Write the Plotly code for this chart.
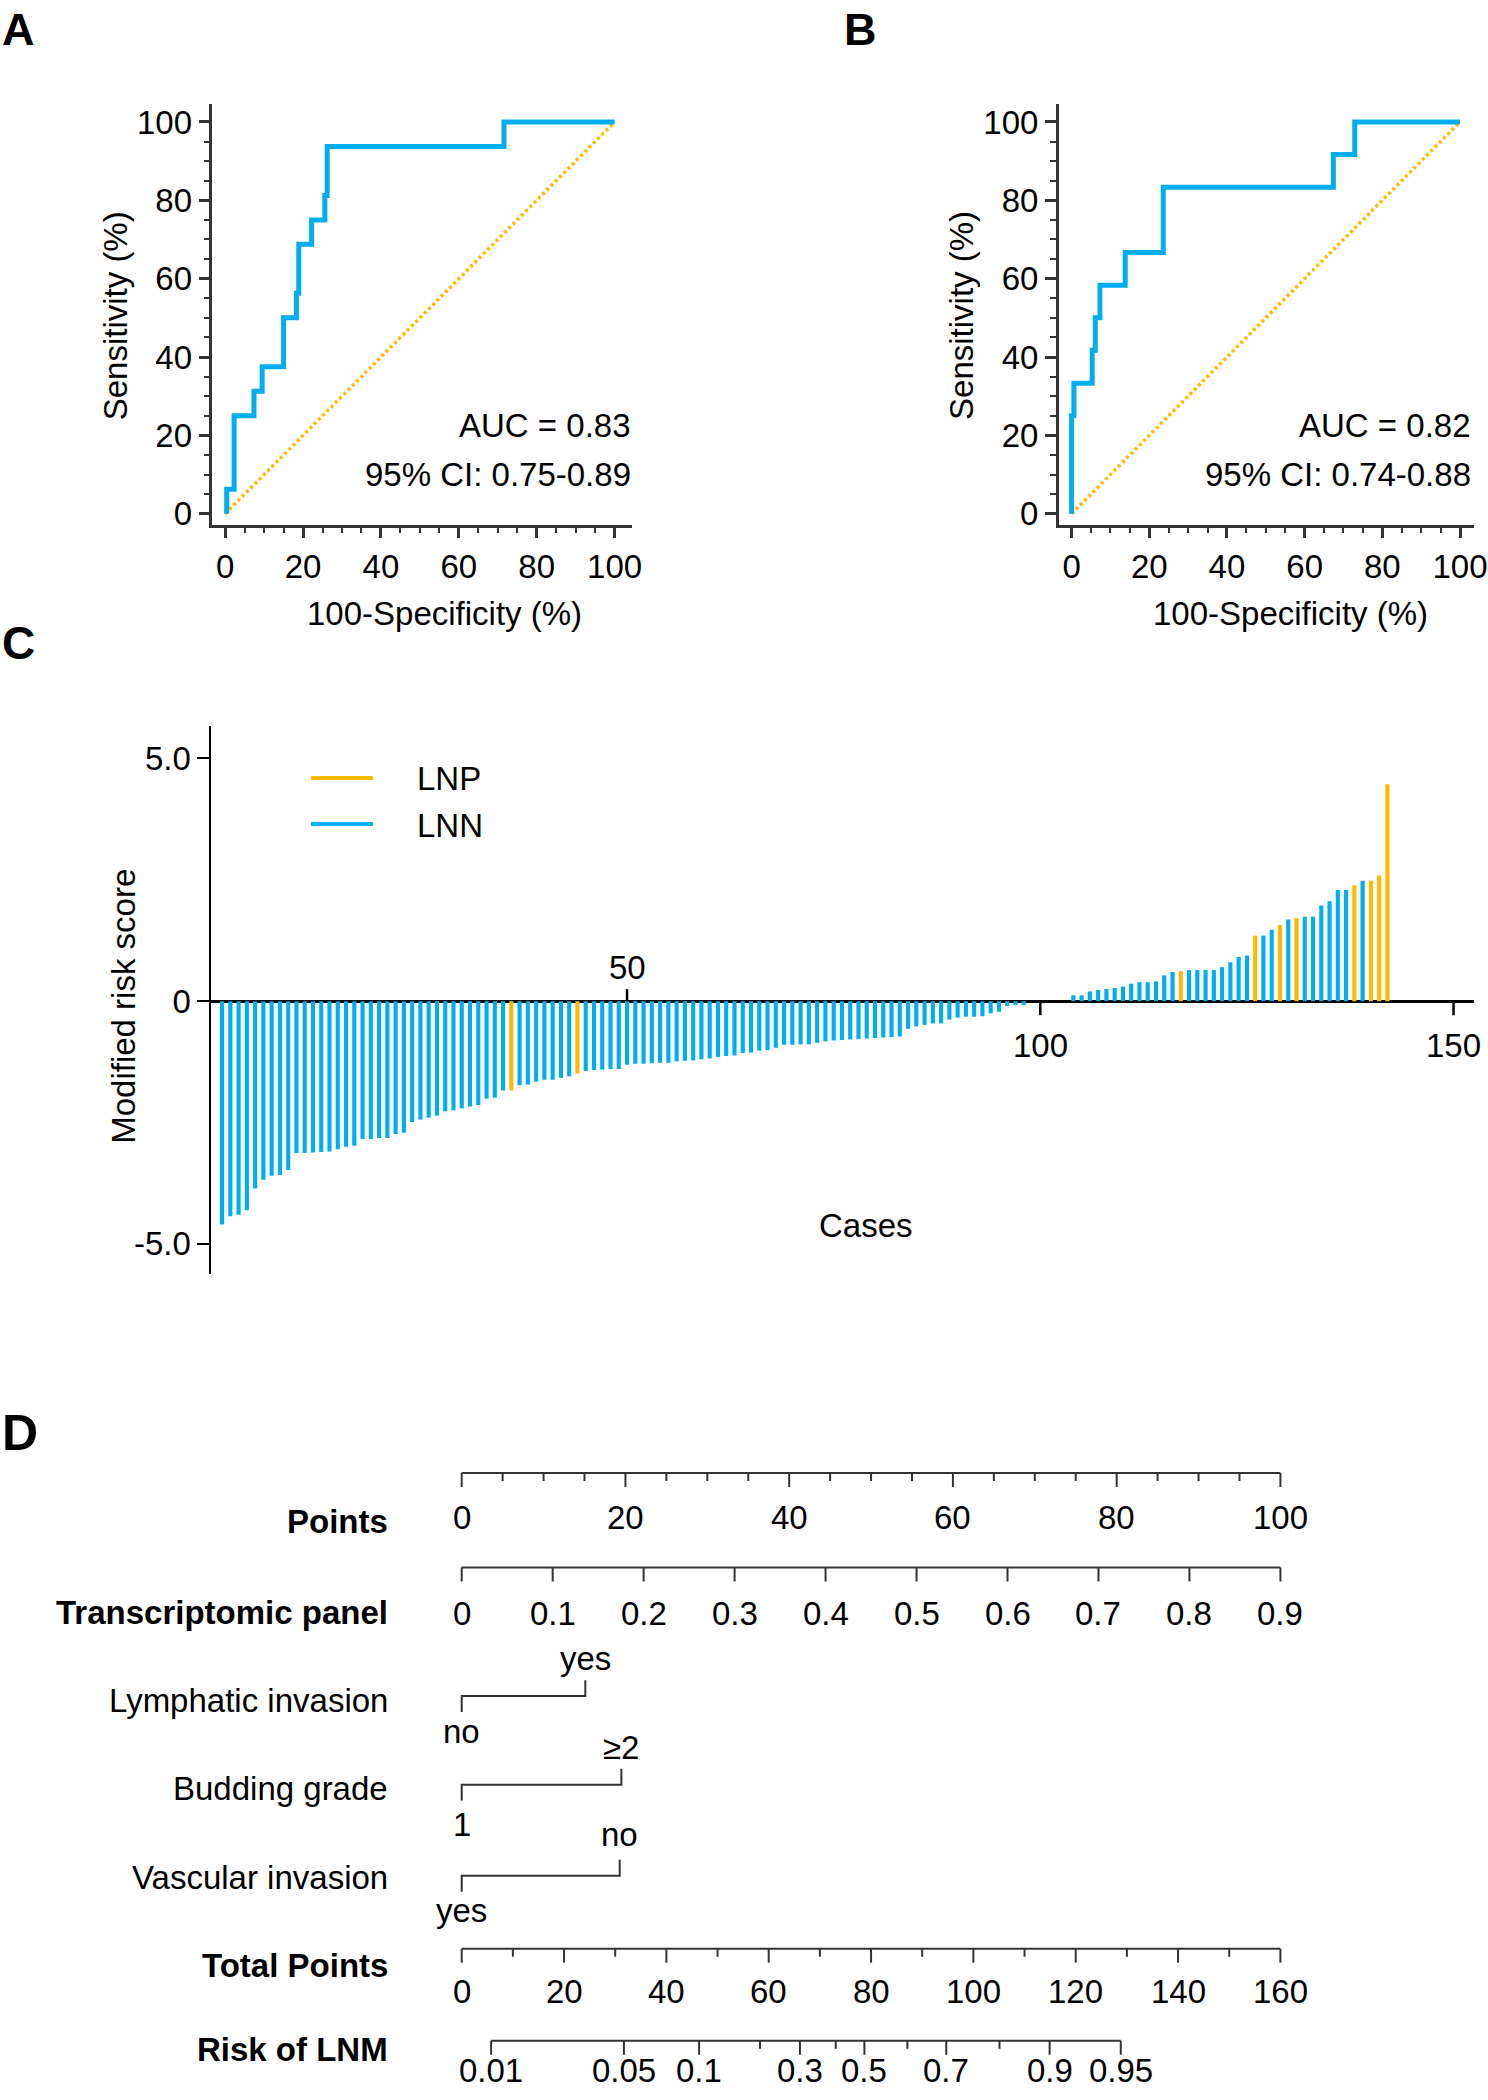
import plotly.graph_objects as go

# ------------------------------------------------------------------ data
# Panel A ROC (step vertices, % values)
roc_a_fpr = [0.4, 2.3, 7.4, 9.5, 15.0, 18.3, 18.9, 22.2, 25.6, 26.2, 71.6, 100.0]
roc_a_tpr = [0.0, 6.25, 25.0, 31.25, 37.5, 50.0, 56.25, 68.75, 75.0, 81.25, 93.75, 100.0]
auc_a_text = ["AUC = 0.83", "95% CI: 0.75-0.89"]

# Panel B ROC
roc_b_fpr = [0.0, 0.6, 5.3, 6.1, 7.3, 13.8, 23.6, 67.4, 72.9, 100.0]
roc_b_tpr = [0.0, 25.0, 33.3, 41.7, 50.0, 58.3, 66.7, 83.3, 91.7, 100.0]
auc_b_text = ["AUC = 0.82", "95% CI: 0.74-0.88"]

roc_ticks = [0, 20, 40, 60, 80, 100]

# Panel C modified risk score per case (cases 1..142, sorted)
risk_scores = [
    -4.60, -4.43, -4.40, -4.31, -3.86, -3.68, -3.60, -3.58, -3.48, -3.13,
    -3.13, -3.12, -3.11, -3.10, -3.05, -3.00, -2.98, -2.84, -2.84, -2.82,
    -2.82, -2.74, -2.71, -2.49, -2.44, -2.40, -2.36, -2.27, -2.25, -2.21,
    -2.17, -2.14, -2.01, -1.99, -1.84, -1.84, -1.73, -1.72, -1.66, -1.62,
    -1.62, -1.58, -1.55, -1.49, -1.44, -1.42, -1.41, -1.40, -1.40, -1.31,
    -1.29, -1.29, -1.28, -1.27, -1.27, -1.24, -1.23, -1.22, -1.20, -1.18,
    -1.15, -1.13, -1.12, -1.07, -1.06, -1.02, -1.01, -0.96, -0.90, -0.90,
    -0.89, -0.89, -0.86, -0.83, -0.81, -0.80, -0.79, -0.78, -0.77, -0.76,
    -0.75, -0.74, -0.73, -0.57, -0.52, -0.49, -0.46, -0.46, -0.38, -0.34,
    -0.32, -0.32, -0.31, -0.25, -0.22, -0.10, -0.08, -0.08, 0.00, 0.00,
    0.00, 0.00, 0.00, 0.12, 0.12, 0.20, 0.23, 0.25, 0.27, 0.30,
    0.36, 0.39, 0.39, 0.41, 0.53, 0.60, 0.62, 0.64, 0.64, 0.64,
    0.64, 0.70, 0.80, 0.91, 0.94, 1.35, 1.35, 1.47, 1.57, 1.68,
    1.71, 1.74, 1.74, 1.97, 2.06, 2.29, 2.29, 2.39, 2.48, 2.48,
    2.59, 4.47,
]
lnp_cases = [36, 44, 117, 126, 129, 131, 138, 140, 141, 142]
c_xticks = [50, 100, 150]
c_yticks = [-5, 0, 5]
c_yticktext = ["-5.0", "0", "5.0"]
legend_names = ["LNP", "LNN"]

# Panel D nomogram
points_major = [0, 20, 40, 60, 80, 100]
points_minor_step = 5
panel_ticks = [0, 0.1, 0.2, 0.3, 0.4, 0.5, 0.6, 0.7, 0.8, 0.9]
panel_ticktext = ["0", "0.1", "0.2", "0.3", "0.4", "0.5", "0.6", "0.7", "0.8", "0.9"]
panel_max_value = 0.9          # value that scores 100 points
lymph_levels = ["no", "yes"]
lymph_points = [0, 15.1]
budding_levels = ["1", "\u22652"]
budding_points = [0, 19.5]
vascular_levels = ["yes", "no"]
vascular_points = [0, 19.3]
total_major = [0, 20, 40, 60, 80, 100, 120, 140, 160]
total_minor = [10, 30, 50, 70, 90, 110, 130, 150]
total_max = 160                # total points spanning the 0-100 points scale
risk_major = ["0.01", "0.05", "0.1", "0.3", "0.5", "0.7", "0.9", "0.95"]
risk_major_total = [5.75, 31.7, 46.4, 66.1, 78.7, 94.7, 114.9, 128.8]
risk_minor_total = [58.3, 73.1, 87.1, 105.1]   # 0.2, 0.4, 0.6, 0.8

# ------------------------------------------------------------------ style / layout
W, H = 1488, 2100
FONT = "Liberation Sans, Arial, Helvetica, sans-serif"
BLUE = "#00AEEF"
ORANGE = "#FFBA00"
AXC = "#333333"
FS = 33


def X(x):   # layout pixel calibration (horizontal)
    return 1.006 * x + 2


def Y(y):   # layout pixel calibration (vertical)
    return y + 0.0045 * (y - 120)


def px(x):
    return X(x) / W


def py(y):
    return 1 - Y(y) / H


def h_axis(p_start, p_end, p_a, p_b, v_a, v_b):
    unit = (p_b - p_a) / (v_b - v_a)
    return dict(domain=[p_start / W, p_end / W],
                range=[v_a - (p_a - p_start) / unit, v_a + (p_end - p_a) / unit])


def v_axis(p_top, p_bottom, p_a, p_b, v_a, v_b):
    unit = (p_a - p_b) / (v_b - v_a)
    return dict(domain=[1 - p_bottom / H, 1 - p_top / H],
                range=[v_a - (p_bottom - p_a) / unit, v_a + (p_a - p_top) / unit])


fig = go.Figure()

# ------------------------------------------------------------------ A & B
for i, (fpr, tpr) in enumerate([(roc_a_fpr, roc_a_tpr), (roc_b_fpr, roc_b_tpr)]):
    xa = "x" if i == 0 else "x2"
    ya = "y" if i == 0 else "y2"
    fig.add_trace(go.Scatter(x=[0, 100], y=[0, 100], mode="lines", xaxis=xa, yaxis=ya,
                             line=dict(color=ORANGE, width=3.5, dash="3px,3px"),
                             showlegend=False, hoverinfo="skip"))
    fig.add_trace(go.Scatter(x=fpr, y=tpr, mode="lines", xaxis=xa, yaxis=ya,
                             line=dict(color=BLUE, width=5, shape="vh"),
                             showlegend=False))

roc_axis = dict(tickvals=roc_ticks, ticks="outside", ticklen=11, tickwidth=2.5,
                tickcolor=AXC, showline=True, linewidth=2.5, linecolor=AXC, showgrid=False,
                zeroline=False, tickfont=dict(size=FS, color="black", family=FONT),
                ticklabeloverflow="allow",
                minor=dict(dtick=5, tick0=0, ticks="outside", ticklen=6, tickwidth=2,
                           tickcolor=AXC, showgrid=False))

roc_y = v_axis(Y(104.5), Y(524.7), Y(513.9), Y(122.4), 0, 100)
xa_A = dict(roc_axis, anchor="y", **h_axis(X(211), X(632), X(223.8), X(614.3), 0, 100))
ya_A = dict(roc_axis, anchor="x", **roc_y)
xa_B = dict(roc_axis, anchor="y2",
            **h_axis(X(1059.7), min(X(1480), 1487), X(1072.6), X(1462.1), 0, 100))
ya_B = dict(roc_axis, anchor="x2", **roc_y)

# ------------------------------------------------------------------ C
cases = list(range(1, len(risk_scores) + 1))
lnn_x = [c for c in cases if c not in lnp_cases]
fig.add_trace(go.Bar(x=lnn_x, y=[risk_scores[c - 1] for c in lnn_x], width=0.5,
                     marker=dict(color=BLUE, line=dict(width=0)), xaxis="x3", yaxis="y3",
                     name="LNN", showlegend=False))
fig.add_trace(go.Bar(x=lnp_cases, y=[risk_scores[c - 1] for c in lnp_cases], width=0.5,
                     marker=dict(color=ORANGE, line=dict(width=0)), xaxis="x3", yaxis="y3",
                     name="LNP", showlegend=False))

xa_C = dict(anchor="y3", showline=False, showticklabels=False, ticks="", showgrid=False,
            zeroline=False,
            **h_axis(X(210), min(X(1477), 1487), X(220.7), X(1389.3), 1, 142))
ya_C = dict(anchor="x3", tickvals=c_yticks, ticktext=c_yticktext, ticks="outside",
            ticklen=12, tickwidth=2, tickcolor="black", showline=True, linewidth=2,
            linecolor="black", showgrid=False, zeroline=True, zerolinewidth=3,
            zerolinecolor="black", tickfont=dict(size=FS, color="black", family=FONT),
            **v_axis(Y(726), Y(1274), Y(1001), Y(758.5), 0, 5))

shapes = []
annotations = []
for t in c_xticks:
    v = risk_scores[t - 1] if t <= len(risk_scores) else 0
    up = v < -0.5
    shapes.append(dict(type="line", xref="x3", yref="y3", x0=t, x1=t, ysizemode="pixel",
                       yanchor=0, y0=0, y1=12 if up else -14,
                       line=dict(color="black", width=2.5)))
    annotations.append(dict(x=t, y=0, xref="x3", yref="y3", text=str(t), showarrow=False,
                            yshift=34 if up else -44, xanchor="center", yanchor="middle",
                            font=dict(size=FS, color="black", family=FONT)))

# legend (line swatches)
for name, col, yy in [(legend_names[0], ORANGE, 778), (legend_names[1], BLUE, 824)]:
    shapes.append(dict(type="line", xref="paper", yref="paper", x0=px(310), x1=px(372),
                       y0=py(yy), y1=py(yy), line=dict(color=col, width=4)))
    annotations.append(dict(x=px(414), y=py(yy + 1), xref="paper", yref="paper", text=name,
                            showarrow=False, xanchor="left", yanchor="middle",
                            font=dict(size=FS, color="black", family=FONT)))

# ------------------------------------------------------------------ D (nomogram)
D_P0, D_PX = X(461.0), 8.21 * 1.006     # pixel of 0 points, pixels per point
xa_D = dict(domain=[0, 1], range=[-D_P0 / D_PX, (W - D_P0) / D_PX], anchor="y4",
            visible=False, showgrid=False, zeroline=False)
ya_D = dict(domain=[0, 1 - 1440 / H], range=[H, 1440], anchor="x4", visible=False,
            showgrid=False, zeroline=False)

MAJ, MINL = 14, 8
rows_raw = dict(points=(1472.5, 1517, 1521), panel=(1567, 1613, 1612),
                lymph=(1695.5, 1657.5, 1731, 1699.5), budding=(1784, 1746.5, 1824, 1788),
                vascular=(1875, 1833.5, 1910, 1876.5), total=(1948, 1991, 1965),
                risk=(2040, 2070, 2049))
rows = {k: tuple(Y(v) for v in vals) for k, vals in rows_raw.items()}


def nomo_axis(x_line, majors, minors, y):
    xs = [x_line[0], x_line[1], None]
    ys = [y, y, None]
    for m in majors:
        xs += [m, m, None]
        ys += [y, y + MAJ, None]
    for m in minors:
        xs += [m, m, None]
        ys += [y, y + MINL, None]
    fig.add_trace(go.Scatter(x=xs, y=ys, mode="lines", xaxis="x4", yaxis="y4",
                             line=dict(color=AXC, width=2), showlegend=False,
                             hoverinfo="skip"))


def nomo_labels(xs, texts, y):
    for xv, tx in zip(xs, texts):
        annotations.append(dict(x=xv, y=y, xref="x4", yref="y4", text=tx, showarrow=False,
                                xanchor="center", yanchor="middle",
                                font=dict(size=FS, color="black", family=FONT)))


def row_name(text, y, bold):
    annotations.append(dict(x=px(389), y=1 - y / H, xref="paper", yref="paper",
                            text=f"<b>{text}</b>" if bold else text, showarrow=False,
                            xanchor="right", yanchor="middle",
                            font=dict(size=FS, color="black", family=FONT)))


# Points
pts_minor = [v for v in range(0, 101, points_minor_step) if v not in points_major]
nomo_axis((0, 100), points_major, pts_minor, rows["points"][0])
nomo_labels(points_major, [str(v) for v in points_major], rows["points"][1])
row_name("Points", rows["points"][2], True)

# Transcriptomic panel
panel_pts = [v / panel_max_value * 100 for v in panel_ticks]
nomo_axis((panel_pts[0], panel_pts[-1]), panel_pts, [], rows["panel"][0])
nomo_labels(panel_pts, panel_ticktext, rows["panel"][1])
row_name("Transcriptomic panel", rows["panel"][2], True)

# Categorical variables
for key, name, levels, pts in [("lymph", "Lymphatic invasion", lymph_levels, lymph_points),
                               ("budding", "Budding grade", budding_levels, budding_points),
                               ("vascular", "Vascular invasion", vascular_levels,
                                vascular_points)]:
    yl, yup, ydn, yname = rows[key]
    fig.add_trace(go.Scatter(x=[pts[0], pts[0], pts[1], pts[1]],
                             y=[yl + 16, yl, yl, yl - 16], mode="lines",
                             xaxis="x4", yaxis="y4", line=dict(color=AXC, width=2),
                             showlegend=False, hoverinfo="skip"))
    nomo_labels([pts[0]], [levels[0]], ydn)
    nomo_labels([pts[1]], [levels[1]], yup)
    row_name(name, yname, False)

# Total points
t2p = 100.0 / total_max
nomo_axis((0, 100), [v * t2p for v in total_major], [v * t2p for v in total_minor],
          rows["total"][0])
nomo_labels([v * t2p for v in total_major], [str(v) for v in total_major], rows["total"][1])
row_name("Total Points", rows["total"][2], True)

# Risk of LNM
rmaj = [v * t2p for v in risk_major_total]
nomo_axis((rmaj[0], rmaj[-1]), rmaj, [v * t2p for v in risk_minor_total], rows["risk"][0])
nomo_labels(rmaj, risk_major, rows["risk"][1])
row_name("Risk of LNM", rows["risk"][2], True)


# ------------------------------------------------------------------ texts A/B/C
def ann(x, y, text, size=FS, xanchor="center", bold=False, angle=0):
    annotations.append(dict(x=x / W, y=1 - y / H, xref="paper", yref="paper",
                            text=f"<b>{text}</b>" if bold else text, showarrow=False,
                            xanchor=xanchor, yanchor="middle", textangle=angle,
                            font=dict(size=size, color="black", family=FONT)))


ann(X(633), Y(426), auc_a_text[0], xanchor="right")
ann(X(633), Y(475), auc_a_text[1], xanchor="right")
ann(min(X(1480), 1486), Y(426), auc_b_text[0], xanchor="right")
ann(min(X(1480), 1486), Y(475), auc_b_text[1], xanchor="right")
ann(X(444), Y(614), "100-Specificity (%)")
ann(X(1292), Y(614), "100-Specificity (%)")
ann(X(114), Y(316), "Sensitivity (%)", angle=-90)
ann(X(962), Y(316), "Sensitivity (%)", angle=-90)
ann(X(121), Y(1006), "Modified risk score", angle=-90)
ann(X(866), Y(1225), "Cases")

ann(19, 30, "A", size=45, bold=True)
ann(868, 30, "B", size=45, bold=True)
ann(19, 645, "C", size=46, bold=True)
ann(20, 1438, "D", size=50, bold=True)

fig.update_layout(
    width=W, height=H, margin=dict(l=0, r=0, t=0, b=0),
    paper_bgcolor="white", plot_bgcolor="white",
    font=dict(family=FONT, size=FS, color="black"),
    barmode="overlay", showlegend=False,
    xaxis=xa_A, yaxis=ya_A, xaxis2=xa_B, yaxis2=ya_B,
    xaxis3=xa_C, yaxis3=ya_C, xaxis4=xa_D, yaxis4=ya_D,
    shapes=shapes, annotations=annotations,
)

fig.write_html("out.html", config={"displayModeBar": False},
               post_script="document.body.style.margin='0';"
                           "document.body.style.overflow='hidden';")
